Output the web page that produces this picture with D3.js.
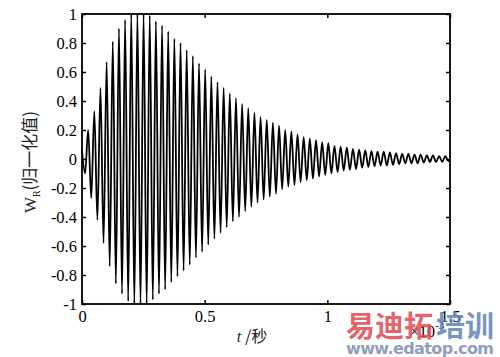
<!DOCTYPE html>
<html>
<head>
<meta charset="utf-8">
<script src="https://cdn.jsdelivr.net/npm/d3@7"></script>
<style>
body { margin: 0; background: #fff; }
svg { display: block; }
.tick text { font-family: "Liberation Serif", "DejaVu Serif", serif; font-size: 16.5px; fill: #000; }
</style>
</head>
<body>
<div id="figzone"></div>
<script>
var width = 500, height = 357;
var plotL = 82, plotR = 450, plotT = 14, plotB = 304;

// oscillation period (x10^-3 s), read from peak spacing
var period = 0.0251;
// positive peak of each cycle, at t = k*period
var peaks = [0.06, 0.20, 0.33, 0.49, 0.67, 0.81, 0.90, 0.96, 1.0, 1.0,
    1.0, 0.99, 0.95, 0.92, 0.88, 0.83, 0.80, 0.75, 0.71, 0.66,
    0.62, 0.57, 0.53, 0.49, 0.45, 0.42, 0.38, 0.35, 0.32, 0.29,
    0.27, 0.25, 0.23, 0.20, 0.19, 0.17, 0.15, 0.14, 0.13, 0.115,
    0.11, 0.09, 0.085, 0.08, 0.07, 0.065, 0.06, 0.055, 0.05, 0.05,
    0.045, 0.04, 0.035, 0.035, 0.03, 0.03, 0.025, 0.025, 0.02, 0.02];
// negative peak of each cycle, at t = (k+0.5)*period
var troughs = [-0.10, -0.27, -0.42, -0.58, -0.74, -0.86, -0.93, -0.98, -1.0, -1.0,
    -1.0, -0.97, -0.93, -0.90, -0.85, -0.81, -0.77, -0.73, -0.68, -0.64,
    -0.59, -0.55, -0.51, -0.47, -0.43, -0.40, -0.36, -0.33, -0.30, -0.28,
    -0.26, -0.24, -0.21, -0.19, -0.18, -0.16, -0.145, -0.135, -0.12, -0.11,
    -0.10, -0.09, -0.08, -0.075, -0.07, -0.06, -0.055, -0.05, -0.045, -0.045,
    -0.04, -0.035, -0.03, -0.03, -0.03, -0.025, -0.02, -0.02, -0.02, -0.015];

var xTicks = [0, 0.5, 1, 1.5];
var yTicks = [-1, -0.8, -0.6, -0.4, -0.2, 0, 0.2, 0.4, 0.6, 0.8, 1];

var svg = d3.select("#figzone").append("svg").attr("width", width).attr("height", height);

var x = d3.scaleLinear().domain([0, 1.5]).range([plotL, plotR]);
var y = d3.scaleLinear().domain([-1, 1]).range([plotB, plotT]);

// signal: alternate peaks and troughs
var pts = [];
peaks.forEach(function(p, k){
    pts.push([k*period, p]);
    if (troughs[k] !== undefined) pts.push([(k+0.5)*period, troughs[k]]);
});
pts.push([1.5, 0]);

svg.append("defs").append("clipPath").attr("id", "clip")
    .append("rect").attr("x", plotL).attr("y", plotT - 1).attr("width", plotR - plotL).attr("height", plotB - plotT + 2);

var line = d3.line()
    .x(function(d){ return x(d[0]); })
    .y(function(d){ return y(d[1]); })
    .curve(d3.curveMonotoneX);

svg.append("path").datum(pts)
    .attr("d", line)
    .attr("clip-path", "url(#clip)")
    .style("fill", "none")
    .style("stroke", "#000")
    .style("stroke-width", 1.8);

// axes, ticks pointing inside
var fmt = function(d){ return String(+d.toFixed(1)); };
var gB = svg.append("g").attr("transform", "translate(0," + plotB + ")")
    .call(d3.axisBottom(x).tickValues(xTicks).tickSize(-4).tickPadding(6).tickFormat(fmt));
var gL = svg.append("g").attr("transform", "translate(" + plotL + ",0)")
    .call(d3.axisLeft(y).tickValues(yTicks).tickSize(-4).tickPadding(5).tickFormat(fmt));
var gT = svg.append("g").attr("transform", "translate(0," + plotT + ")")
    .call(d3.axisTop(x).tickValues(xTicks).tickSize(-4).tickFormat(""));
var gR = svg.append("g").attr("transform", "translate(" + plotR + ",0)")
    .call(d3.axisRight(y).tickValues(yTicks).tickSize(-4).tickFormat(""));
[gB, gL, gT, gR].forEach(function(g){
    g.select(".domain").remove();
    g.selectAll("line").style("stroke", "#000").style("stroke-width", 1.5);
});

svg.append("rect")
    .attr("x", plotL).attr("y", plotT).attr("width", plotR - plotL).attr("height", plotB - plotT)
    .style("fill", "none").style("stroke", "#000").style("stroke-width", 1.8);

// axis titles
var xt = svg.append("text").attr("x", 252).attr("y", 342).attr("text-anchor", "middle")
    .style("font-size", "16px").style("fill", "#222");
xt.append("tspan").style("font-family", "Liberation Serif, serif").style("font-style", "italic").text("t");
xt.append("tspan").style("font-family", "Noto Sans CJK SC, sans-serif").text(" /秒");

var yt = svg.append("text").attr("transform", "translate(36,162) rotate(-90)")
    .attr("text-anchor", "middle").style("font-size", "17px").style("fill", "#222");
yt.append("tspan").style("font-family", "Liberation Serif, serif").text("W");
yt.append("tspan").style("font-family", "Liberation Serif, serif").style("font-size", "10px").attr("dy", 4).text("R");
yt.append("tspan").style("font-family", "Noto Sans CJK SC, sans-serif").attr("dy", -4).text("(归一化值)");

var ex = svg.append("text").attr("x", 410).attr("y", 337)
    .style("font-family", "Liberation Serif, serif").style("font-size", "16px").style("fill", "#000");
ex.append("tspan").text("×10");
ex.append("tspan").attr("dy", -8).style("font-size", "11px").text("-3");

// watermark
var wm = svg.append("g").style("opacity", 0.85);
wm.append("text").attr("x", 346).attr("y", 337)
    .style("font-family", "Noto Sans CJK SC, sans-serif").style("font-weight", "bold").style("font-size", "29px")
    .style("fill", "#e04a55").text("易迪拓");
wm.append("text").attr("x", 436).attr("y", 337)
    .style("font-family", "Noto Sans CJK SC, sans-serif").style("font-weight", "bold").style("font-size", "29px")
    .style("fill", "#5f84b8").text("培训");
wm.append("text").attr("x", 346).attr("y", 354).attr("textLength", 148)
    .style("font-family", "DejaVu Sans, sans-serif").style("font-weight", "bold").style("font-size", "16px")
    .style("fill", "#7b8fb3").text("www.edatop.com");
</script>
</body>
</html>
